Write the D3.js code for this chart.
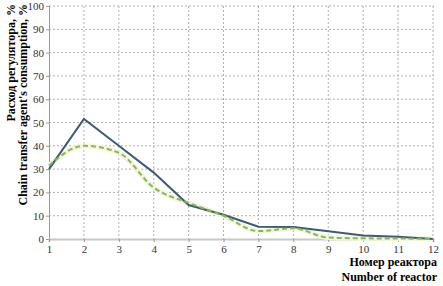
<!DOCTYPE html>
<meta charset="utf-8">
<script src="https://d3js.org/d3.v7.min.js"></script>
<style>
  body { margin: 0; background: #fff; }
  text { font-family: "Liberation Serif", "Times New Roman", serif; }
</style>
<body>
<div id="chart"></div>
<script>
// reactor numbers and the two consumption series, %
var reactors = [1, 2, 3, 4, 5, 6, 7, 8, 9, 10, 11, 12];
var solidSeries = [30, 51.5, 40, 28.5, 14.6, 10.4, 5.3, 5.2, 3.3, 1.5, 1, 0];
var dashedSeries = [31.5, 40, 37, 22, 15.5, 10, 3.4, 4.6, 0.6, 0.3, 0.2, 0];
var yTicks = [0, 10, 20, 30, 40, 50, 60, 70, 80, 90, 100];

var margin = {top: 6, right: 9, bottom: 47, left: 49},
    width = 443 - margin.left - margin.right,
    height = 286 - margin.top - margin.bottom;

var svg = d3.select("#chart")
  .append("svg")
    .attr("width", 443)
    .attr("height", 286)
  .append("g")
    .attr("transform", "translate(" + margin.left + "," + margin.top + ")");

var x = d3.scaleLinear().domain([1, 12]).range([0, width - 1]);
var y = d3.scaleLinear().domain([0, 100]).range([height, 0]);

// grid
svg.append("g")
  .selectAll("line.h")
  .data(yTicks.filter(function(d) { return d > 0; }))
  .enter().append("line")
    .attr("x1", 0).attr("x2", width)
    .attr("y1", function(d) { return y(d); })
    .attr("y2", function(d) { return y(d); })
    .attr("stroke", "#b0b0b0")
    .attr("stroke-dasharray", "2,2");
svg.append("g")
  .selectAll("line.v")
  .data(reactors.slice(1))
  .enter().append("line")
    .attr("x1", function(d) { return x(d); })
    .attr("x2", function(d) { return x(d); })
    .attr("y1", 0).attr("y2", height)
    .attr("stroke", "#b0b0b0")
    .attr("stroke-dasharray", "2,2");

// axes
var yAxis = svg.append("g")
  .call(d3.axisLeft(y).tickValues(yTicks).tickSize(3).tickPadding(2));
yAxis.select(".domain").attr("stroke", "#999");
yAxis.selectAll(".tick line").attr("stroke", "#999");
yAxis.selectAll("text").style("font-size", "11px").attr("fill", "#333");

var xAxis = svg.append("g")
  .attr("transform", "translate(0," + height + ")")
  .call(d3.axisBottom(x).tickValues(reactors).tickFormat(d3.format("d")).tickSize(3).tickPadding(3));
xAxis.select(".domain").attr("stroke", "#c8c8c8").attr("stroke-width", 2);
xAxis.selectAll(".tick line").attr("stroke", "#999");
xAxis.selectAll("text").style("font-size", "11px").attr("fill", "#333");

var line = d3.line()
  .x(function(d, i) { return x(reactors[i]); })
  .y(function(d) { return y(d); });

var smooth = d3.line()
  .x(function(d, i) { return x(reactors[i]); })
  .y(function(d) { return y(d); })
  .curve(d3.curveMonotoneX);

// halo under dashed series
svg.append("path")
  .datum(dashedSeries)
  .attr("fill", "none")
  .attr("stroke", "#f1f7d8")
  .attr("stroke-width", 5)
  .attr("d", smooth);

svg.append("path")
  .datum(solidSeries)
  .attr("fill", "none")
  .attr("stroke", "#3e5a78")
  .attr("stroke-width", 2)
  .attr("d", line);

svg.append("path")
  .datum(dashedSeries)
  .attr("fill", "none")
  .attr("stroke", "#8ab55c")
  .attr("stroke-width", 2)
  .attr("stroke-dasharray", "5,3")
  .attr("d", smooth);

// axis titles
var root = d3.select("svg");
var yTitle = root.append("text")
  .attr("transform", "translate(15,4) rotate(-90)")
  .attr("text-anchor", "end")
  .style("font-size", "12px")
  .style("font-weight", "bold");
yTitle.append("tspan").attr("x", 0).attr("y", 0).text("Расход регулятора, %");
yTitle.append("tspan").attr("x", 0).attr("y", 12).text("Chain transfer agent's consumption, %");

root.append("text")
  .attr("x", 437).attr("y", 266)
  .attr("text-anchor", "end")
  .style("font-size", "12px")
  .style("font-weight", "bold")
  .text("Номер реактора");
root.append("text")
  .attr("x", 437).attr("y", 281)
  .attr("text-anchor", "end")
  .style("font-size", "12px")
  .style("font-weight", "bold")
  .text("Number of reactor");
</script>
</body>
</html>
